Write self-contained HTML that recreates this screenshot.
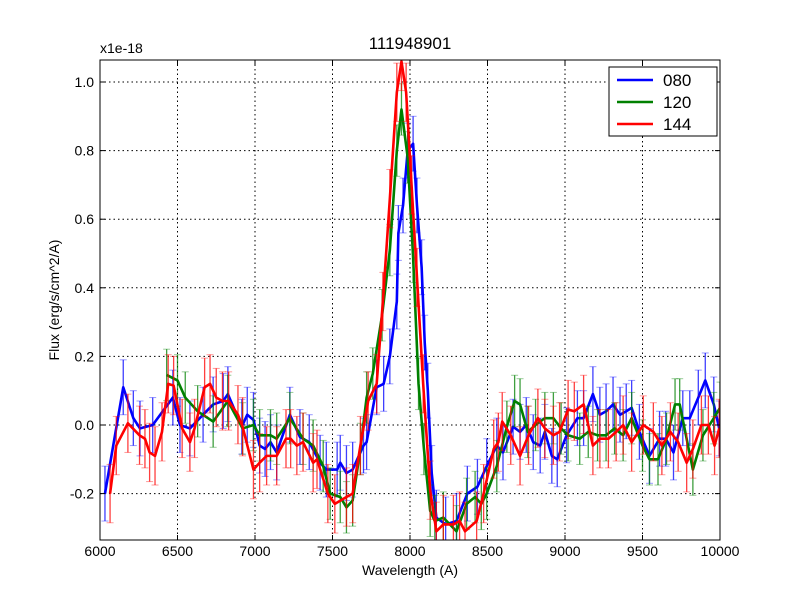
<!DOCTYPE html>
<html><head><meta charset="utf-8"><style>
body{margin:0;background:#fff;}
svg text{font-family:"Liberation Sans","DejaVu Sans",sans-serif;}
</style></head><body>
<svg id="chart" width="800" height="600" xmlns="http://www.w3.org/2000/svg">
<rect width="800" height="600" fill="#fff"/>
<defs><clipPath id="clip"><rect x="100" y="60" width="620" height="480"/></clipPath></defs>
<text x="410" y="49" font-size="17" text-anchor="middle">111948901</text>
<text x="100" y="53" font-size="14">x1e-18</text>
<text x="410" y="575" font-size="14" text-anchor="middle">Wavelength (A)</text>
<text transform="translate(59,300) rotate(-90)" font-size="14" text-anchor="middle">Flux (erg/s/cm^2/A)</text>
<g id="grid"></g>
<g id="series" clip-path="url(#clip)"></g>
<rect x="100" y="60" width="620" height="480" fill="none" stroke="#000" stroke-width="1"/>
<g id="ticks"></g>
<g>
<rect x="609" y="67" width="108" height="69" fill="#fff" stroke="#000"/>
<line x1="617" y1="80" x2="653" y2="80" stroke="#0000ff" stroke-width="2.5"/>
<text x="663" y="86" font-size="17">080</text>
<line x1="617" y1="102" x2="653" y2="102" stroke="#008000" stroke-width="2.5"/>
<text x="663" y="108" font-size="17">120</text>
<line x1="617" y1="124" x2="653" y2="124" stroke="#ff0000" stroke-width="2.5"/>
<text x="663" y="130" font-size="17">144</text>
</g>
</svg>
<script>
const xTicks=[6000,6500,7000,7500,8000,8500,9000,9500,10000];
const yTicks=[-0.2,0.0,0.2,0.4,0.6,0.8,1.0];
const yTickLabels=["-0.2","0.0","0.2","0.4","0.6","0.8","1.0"];
const blueW=[6032,6150,6215,6258,6340,6470,6516,6580,6665,6730,6795,6825,6915,6950,6990,7030,7065,7100,7140,7225,7290,7350,7420,7460,7530,7550,7590,7630,7700,7720,7785,7830,7870,7915,7925,7955,7985,8020,8045,8075,8095,8115,8140,8170,8230,8300,8370,8435,8495,8560,8600,8665,8710,8750,8795,8840,8870,8915,8950,9010,9080,9120,9180,9225,9265,9310,9355,9395,9430,9480,9545,9610,9650,9700,9760,9805,9860,9905,9960,9995];
const blueF=[-0.2,0.11,0.02,-0.01,0.0,0.08,0.0,-0.01,0.03,0.06,0.07,0.09,-0.005,0.03,0.015,-0.06,-0.07,-0.05,-0.08,0.03,-0.035,-0.05,-0.11,-0.13,-0.13,-0.11,-0.14,-0.13,-0.06,-0.05,0.11,0.12,0.2,0.36,0.56,0.64,0.8,0.82,0.64,0.46,0.24,0.1,-0.14,-0.27,-0.29,-0.28,-0.2,-0.18,-0.12,-0.06,-0.08,-0.005,-0.02,0,-0.05,-0.06,-0.02,-0.09,-0.1,-0.03,0.02,0.02,0.09,0.03,0.04,0.06,0.03,0.04,0.05,-0.02,-0.09,-0.04,-0.04,-0.08,0.02,0.02,0.08,0.13,0.06,-0.01];
const greenW=[6430,6500,6550,6630,6730,6825,6920,6990,7030,7100,7140,7225,7310,7375,7440,7485,7550,7590,7630,7680,7720,7760,7820,7870,7915,7945,7985,8020,8055,8090,8130,8160,8215,8300,8365,8420,8460,8495,8560,8625,8675,8710,8760,8810,8870,8925,8975,9020,9095,9150,9210,9265,9320,9375,9430,9500,9545,9600,9655,9710,9740,9825,9890,9960,10000];
const greenF=[0.146,0.13,0.08,0.04,0.01,0.07,-0.01,0,-0.03,-0.03,-0.04,0.02,-0.04,-0.06,-0.12,-0.2,-0.21,-0.24,-0.22,-0.07,0.08,0.15,0.32,0.51,0.8,0.92,0.78,0.49,0.12,-0.07,-0.25,-0.28,-0.27,-0.31,-0.23,-0.21,-0.23,-0.2,-0.12,-0.005,0.07,0.06,-0.02,0,0.02,0.02,-0.01,-0.03,-0.04,-0.02,-0.03,-0.03,-0.01,-0.03,0.02,-0.06,-0.1,-0.1,-0.04,0.06,0.06,-0.13,-0.03,0.02,0.05];
const redW=[6065,6105,6180,6255,6290,6320,6355,6400,6440,6475,6530,6580,6610,6675,6710,6750,6790,6830,6890,6920,6990,7030,7075,7140,7200,7230,7270,7310,7375,7400,7470,7515,7590,7630,7680,7730,7785,7825,7870,7915,7945,7975,8010,8045,8085,8130,8170,8215,8280,8320,8355,8430,8475,8540,8570,8595,8650,8710,8765,8825,8870,8925,8965,9020,9060,9120,9180,9225,9280,9330,9375,9430,9505,9570,9625,9680,9730,9785,9825,9880,9925,9965,9995];
const redF=[-0.2,-0.06,0.005,-0.03,-0.04,-0.08,-0.09,-0.02,0.12,0.115,-0.01,-0.05,-0.01,0.11,0.12,0.08,0.07,0.07,0.03,-0.005,-0.13,-0.11,-0.09,-0.09,-0.04,-0.04,-0.06,-0.05,-0.11,-0.1,-0.2,-0.23,-0.21,-0.2,-0.06,0.07,0.12,0.36,0.66,0.97,1.06,0.97,0.7,0.43,0.12,-0.19,-0.31,-0.29,-0.29,-0.28,-0.31,-0.28,-0.2,-0.07,-0.05,0.01,-0.03,-0.09,-0.03,0.02,-0.01,-0.03,-0.02,0.045,0.04,0.06,-0.06,-0.04,-0.04,-0.02,0,-0.05,0,-0.02,-0.06,-0.02,-0.05,-0.11,-0.07,0,0,-0.06,-0.01];
const errBlue=[0.08];
const errGreen=[0.075];
const errRed=[0.085];
const NS="http://www.w3.org/2000/svg";
const X=w=>100+(w-6000)*620/4000;
const Y=f=>425-f*343;
function mk(t,a,p){const e=document.createElementNS(NS,t);for(const k in a)e.setAttribute(k,a[k]);p.appendChild(e);return e;}
const grid=document.getElementById('grid'),ticks=document.getElementById('ticks'),ser=document.getElementById('series');
xTicks.forEach(v=>{
  const g=mk('line',{x1:X(v),x2:X(v),y1:60,y2:540,stroke:'#000','stroke-dasharray':'1.5,3','stroke-width':1},grid);
  
  
  mk('line',{x1:X(v),x2:X(v),y1:540,y2:535,stroke:'#000'},ticks);
  mk('line',{x1:X(v),x2:X(v),y1:60,y2:65,stroke:'#000'},ticks);
  const t=mk('text',{x:X(v),y:556,'font-size':14,'text-anchor':'middle'},ticks);t.textContent=v;
  
  
});
yTicks.forEach((v,i)=>{
  const g=mk('line',{x1:100,x2:720,y1:Y(v),y2:Y(v),stroke:'#000','stroke-dasharray':'1.5,3','stroke-width':1},grid);
  
  
  mk('line',{x1:100,x2:105,y1:Y(v),y2:Y(v),stroke:'#000'},ticks);
  mk('line',{x1:715,x2:720,y1:Y(v),y2:Y(v),stroke:'#000'},ticks);
  const t=mk('text',{x:94,y:Y(v)+5,'font-size':14,'text-anchor':'end'},ticks);t.textContent=yTickLabels[i];
  
  
});
function draw(W,F,err,col,name){
  const g=mk('g',{},ser);
  
  
  W.forEach((w,i)=>{
    const x=X(w),e=err[0];
    mk('line',{x1:x,x2:x,y1:Y(F[i]+e),y2:Y(F[i]-e),stroke:col,'stroke-width':1.3,opacity:0.75},g);
    mk('line',{x1:x-3.5,x2:x+3.5,y1:Y(F[i]+e),y2:Y(F[i]+e),stroke:col,'stroke-width':1,opacity:0.4},g);
    mk('line',{x1:x-3.5,x2:x+3.5,y1:Y(F[i]-e),y2:Y(F[i]-e),stroke:col,'stroke-width':1,opacity:0.4},g);
  });
  const p=mk('polyline',{points:W.map((w,i)=>X(w)+','+Y(F[i])).join(' '),fill:'none',stroke:col,'stroke-width':2.6,'stroke-linejoin':'round'},ser);
  
  
}
draw(blueW,blueF,errBlue,'#0000ff','series-080');
draw(greenW,greenF,errGreen,'#008000','series-120');
draw(redW,redF,errRed,'#ff0000','series-144');
</script>
</body></html>
